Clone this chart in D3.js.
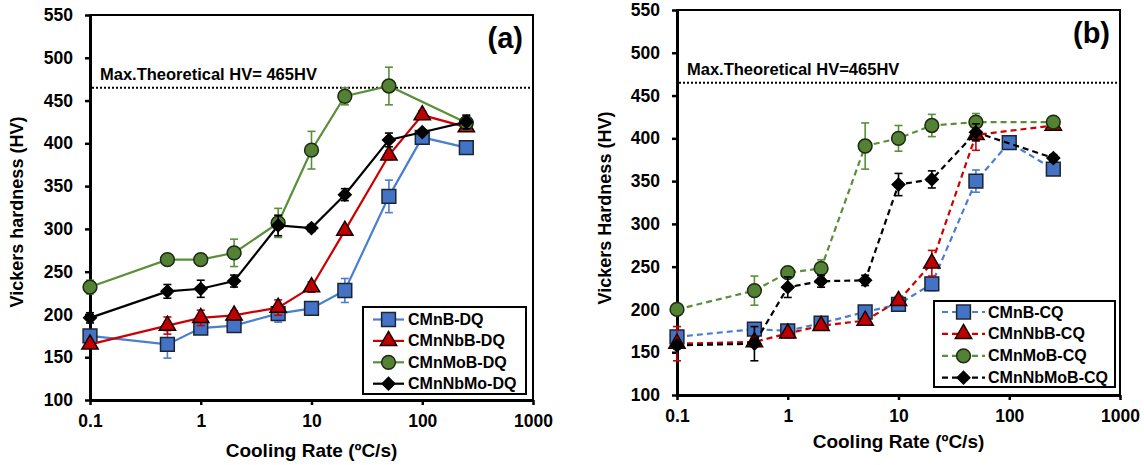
<!DOCTYPE html>
<html>
<head>
<meta charset="utf-8">
<script src="https://cdn.jsdelivr.net/npm/d3@7"></script>
<style>
  body { margin: 0; background: #fff; }
  svg { display: block; }
  text { font-family: "Liberation Sans", Arial, sans-serif; font-weight: bold; fill: #000; }
</style>
</head>
<body>
<div id="canva"></div>
<script>
// cooling rates (ºC/s)
const ratesAll = [0.1, 0.5, 1, 2, 5, 10, 20, 50, 100, 250];
const ratesNo100 = [0.1, 0.5, 1, 2, 5, 10, 20, 50, 250];

// axis ticks
const hvTicks = [100, 150, 200, 250, 300, 350, 400, 450, 500, 550];
const rateTicks = [0.1, 1, 10, 100, 1000];
const maxHV = 465;

// (a) direct quenched
const dqNames = ['CMnB-DQ', 'CMnNbB-DQ', 'CMnMoB-DQ', 'CMnNbMo-DQ'];
const dqCMnB = [175, 165, 184, 187, 201, 207, 228, 338, 407, 395];
const dqCMnBErr = [3, 16, 5, 4, 10, 3, 14, 19, 3, 2];
const dqCMnNbB = [165, 187, 196, 199, 208, 232, 298, 386, 433, 419];
const dqCMnNbBErr = [3, 10, 9, 5, 9, 6, 3, 5, 5, 4];
const dqCMnMoB = [232, 264, 264, 272, 307, 392, 455, 467, 424];
const dqCMnMoBErr = [8, 3, 3, 16, 17, 22, 10, 22, 8];
const dqCMnNbMo = [196, 227, 230, 239, 304, 301, 340, 404, 413, 425];
const dqCMnNbMoErr = [6, 8, 10, 7, 12, 4, 7, 8, 3, 8];

// (b) continuous cooled
const cqNames = ['CMnB-CQ', 'CMnNbB-CQ', 'CMnMoB-CQ', 'CMnNbMoB-CQ'];
const cqCMnB = [168, 177, 175, 184, 197, 206, 230, 350, 395, 364];
const cqCMnBErr = [4, 3, 3, 3, 4, 6, 8, 13, 5, 4];
const cqCMnNbB = [160, 162, 172, 181, 187, 210, 254, 404, 415];
const cqCMnNbBErr = [20, 6, 4, 3, 4, 5, 15, 18, 4];
const cqCMnMoB = [200, 222, 243, 248, 391, 400, 415, 419, 419];
const cqCMnMoBErr = [3, 17, 3, 10, 27, 15, 13, 10, 3];
const cqCMnNbMoB = [158, 160, 226, 233, 234, 346, 352, 407, 377];
const cqCMnNbMoBErr = [4, 20, 12, 7, 6, 13, 10, 10, 4];

const width = 1144;
const height = 465;

// style per series slot
const styles = [
  { line: '#4a7fcf', fill: '#4472c4', stroke: '#1b2533', shape: 'square' },
  { line: '#cc0000', fill: '#c00000', stroke: '#1a0000', shape: 'triangle' },
  { line: '#5a8f3a', fill: '#548235', stroke: '#1c2a12', shape: 'circle' },
  { line: '#000000', fill: '#000000', stroke: '#000000', shape: 'diamond' }
];

const svg = d3.select('#canva')
  .append('svg')
  .attr('width', width)
  .attr('height', height);

svg.append('rect').attr('width', width).attr('height', height).attr('fill', '#fff');

function markerPath(shape) {
  if (shape === 'square') return d3.symbol().type(d3.symbolSquare).size(190)();
  if (shape === 'triangle') return d3.symbol().type(d3.symbolTriangle).size(115)();
  if (shape === 'circle') return d3.symbol().type(d3.symbolCircle).size(150)();
  return d3.symbol().type(d3.symbolSquare).size(80)();
}

function addMarker(g, st, cx, cy) {
  g.append('path')
    .attr('d', markerPath(st.shape))
    .attr('transform', `translate(${cx},${cy})` + (st.shape === 'diamond' ? ' rotate(45)' : ''))
    .attr('fill', st.fill)
    .attr('stroke', st.stroke)
    .attr('stroke-width', 1.5);
}

function drawPanel(p) {
  const g = svg.append('g');
  const x = d3.scaleLog().domain([0.1, 1000]).range([p.left, p.right]);
  const y = d3.scaleLinear().domain([100, 550]).range([p.bottom, p.top]);

  // frame
  g.append('rect')
    .attr('x', p.left).attr('y', p.top)
    .attr('width', p.right - p.left).attr('height', p.bottom - p.top)
    .attr('fill', 'none').attr('stroke', '#000').attr('stroke-width', 2);

  // theoretical max
  g.append('line')
    .attr('x1', p.left + 2).attr('x2', p.right - 2)
    .attr('y1', y(maxHV)).attr('y2', y(maxHV))
    .attr('stroke', '#000').attr('stroke-width', 2)
    .attr('stroke-dasharray', '2,2');
  g.append('text')
    .attr('x', p.left + 10).attr('y', y(maxHV) - 8)
    .style('font-size', '16.5px')
    .text(p.maxText);

  // axes
  const yAxis = d3.axisLeft(y).tickValues(hvTicks).tickSize(5).tickSizeOuter(0).tickPadding(12);
  const gy = g.append('g').attr('transform', `translate(${p.left},0)`).call(yAxis);
  const xAxis = d3.axisBottom(x).tickValues(rateTicks).tickFormat(d => String(d))
    .tickSize(5).tickSizeOuter(0).tickPadding(10);
  const gx = g.append('g').attr('transform', `translate(0,${p.bottom})`).call(xAxis);
  [gx, gy].forEach(a => {
    a.select('.domain').attr('stroke', '#000').attr('stroke-width', 3);
    a.selectAll('.tick line').attr('stroke', '#000').attr('stroke-width', 2.5);
    a.selectAll('.tick text')
      .attr('fill', '#000')
      .style('font-family', '"Liberation Sans", Arial, sans-serif')
      .style('font-weight', 'bold')
      .style('font-size', '17.5px');
  });

  // axis titles
  g.append('text')
    .attr('transform', `translate(${p.yTitleX},${p.yTitleY}) rotate(-90)`)
    .attr('text-anchor', 'middle')
    .style('font-size', '18px')
    .text(p.yTitle);
  g.append('text')
    .attr('x', (p.left + p.right) / 2).attr('y', p.xTitleY)
    .attr('text-anchor', 'middle')
    .style('font-size', '19px')
    .text('Cooling Rate (ºC/s)');

  // panel label
  g.append('text')
    .attr('x', p.right - 10).attr('y', p.top + 33)
    .attr('text-anchor', 'end')
    .style('font-size', '29px')
    .text(p.label);

  const dash = p.dashed ? '6,4' : null;

  // series
  p.series.forEach((s, k) => {
    const st = styles[k];
    const pts = s.rates.map((r, i) => ({ r: r, v: s.vals[i], e: s.err[i] }));
    const sg = g.append('g');
    sg.append('path')
      .datum(pts)
      .attr('d', d3.line().x(d => x(d.r)).y(d => y(d.v)))
      .attr('fill', 'none')
      .attr('stroke', st.line)
      .attr('stroke-width', 2.2)
      .attr('stroke-dasharray', dash);
    pts.forEach(d => {
      const cx = x(d.r);
      sg.append('line')
        .attr('x1', cx).attr('x2', cx)
        .attr('y1', y(d.v - d.e)).attr('y2', y(d.v + d.e))
        .attr('stroke', st.line).attr('stroke-width', 1.6);
      [d.v - d.e, d.v + d.e].forEach(v => {
        sg.append('line')
          .attr('x1', cx - 4).attr('x2', cx + 4)
          .attr('y1', y(v)).attr('y2', y(v))
          .attr('stroke', st.line).attr('stroke-width', 1.6);
      });
    });
    pts.forEach(d => addMarker(sg, st, x(d.r), y(d.v)));
  });

  // legend
  const L = p.legend;
  g.append('rect')
    .attr('x', L.x).attr('y', L.y).attr('width', L.w).attr('height', L.h)
    .attr('fill', '#fff').attr('stroke', '#000').attr('stroke-width', 2);
  p.series.forEach((s, k) => {
    const st = styles[k];
    const cy = L.y + L.first + k * L.step;
    g.append('line')
      .attr('x1', L.x + L.lineX0).attr('x2', L.x + L.lineX1)
      .attr('y1', cy).attr('y2', cy)
      .attr('stroke', st.line).attr('stroke-width', 2.2)
      .attr('stroke-dasharray', dash);
    addMarker(g, st, L.x + (L.lineX0 + L.lineX1) / 2, cy);
    g.append('text')
      .attr('x', L.x + L.textX).attr('y', cy + 5.5)
      .style('font-size', '16px')
      .text(s.name);
  });
}

drawPanel({
  left: 90, right: 533, top: 15, bottom: 400,
  label: '(a)', maxText: 'Max.Theoretical HV= 465HV',
  yTitle: 'Vickers hardness (HV)', yTitleX: 23, yTitleY: 212, xTitleY: 457,
  dashed: false,
  legend: { x: 363, y: 307, w: 163, h: 87, first: 12.5, step: 21.4, lineX0: 10, lineX1: 41, textX: 45 },
  series: [
    { name: dqNames[0], rates: ratesAll, vals: dqCMnB, err: dqCMnBErr },
    { name: dqNames[1], rates: ratesAll, vals: dqCMnNbB, err: dqCMnNbBErr },
    { name: dqNames[2], rates: ratesNo100, vals: dqCMnMoB, err: dqCMnMoBErr },
    { name: dqNames[3], rates: ratesAll, vals: dqCMnNbMo, err: dqCMnNbMoErr }
  ]
});

drawPanel({
  left: 677, right: 1120, top: 10, bottom: 395,
  label: '(b)', maxText: 'Max.Theoretical HV=465HV',
  yTitle: 'Vickers Hardness (HV)', yTitleX: 611, yTitleY: 208, xTitleY: 448,
  dashed: true,
  legend: { x: 934, y: 301, w: 181, h: 86, first: 11, step: 21.9, lineX0: 8, lineX1: 51, textX: 54 },
  series: [
    { name: cqNames[0], rates: ratesAll, vals: cqCMnB, err: cqCMnBErr },
    { name: cqNames[1], rates: ratesNo100, vals: cqCMnNbB, err: cqCMnNbBErr },
    { name: cqNames[2], rates: ratesNo100, vals: cqCMnMoB, err: cqCMnMoBErr },
    { name: cqNames[3], rates: ratesNo100, vals: cqCMnNbMoB, err: cqCMnNbMoBErr }
  ]
});
</script>
</body>
</html>
